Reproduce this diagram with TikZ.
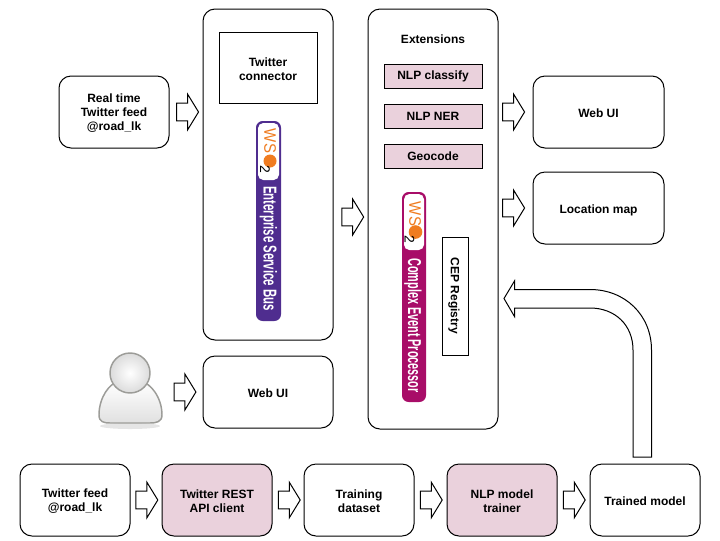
\documentclass[tikz,border=0pt]{standalone}
\usepackage{fontspec}
\setmainfont{Liberation Sans}
\usetikzlibrary{positioning,shapes.arrows}
\definecolor{pinkfill}{HTML}{EAD1DC}
\definecolor{esbpurple}{HTML}{4F2D8F}
\definecolor{cepmagenta}{HTML}{A80D68}
\definecolor{wsorange}{HTML}{F07C20}
\definecolor{usergrey}{HTML}{9C9C98}
\newcommand{\topgap}[1]{\rule{0pt}{#1}}
\tikzset{
	sized/.style 2 args={minimum width=#1*0.75pt, minimum height=#2*0.75pt},
	label/.style={align=center, font=\fontsize{9}{10.5}\selectfont\bfseries, inner sep=0pt},
	drop/.style={execute at begin node={\rule{0pt}{#1}}},
	roundbox/.style={draw, label, drop=8pt, line width=0.75pt, rounded corners=9pt, sized={110}{72}},
	flatbox/.style={draw, label, line width=0.75pt},
	pinkbox/.style={flatbox, fill=pinkfill, sized={98}{24}},
	hollow/.style={draw, single arrow, line width=0.75pt, inner xsep=0pt, inner ysep=6.3pt,
		minimum height=16.4pt, single arrow head extend=6.7pt, single arrow tip angle=117},
	logotext/.style={rotate=-90, white, font=\fontsize{14}{14}\selectfont\bfseries, inner sep=0pt},
	wstext/.style={rotate=-90, wsorange, font=\fontsize{12.5}{12.5}\selectfont, inner sep=0pt},
	twotext/.style={rotate=-90, font=\fontsize{10.5}{10.5}\selectfont, inner sep=0pt}
}
\begin{document}
\begin{tikzpicture}[x=0.75pt,y=-0.75pt]
\useasboundingbox (0,0) rectangle (720,540);
% top left
\node[roundbox] (rtfeed) at (114,112) {\topgap{8pt}Real time\\Twitter feed\\@road\_lk};
\node[roundbox, sized={130}{331}] (esb) at (268,174.5) {};
\node[flatbox, sized={98}{71}] (connector) at (268,67.5) {\topgap{9.5pt}Twitter\\connector};
\node[roundbox, sized={130}{72}] (webleft) at (268,392) {Web UI};
\node[hollow, right=5pt of rtfeed] (feedarrow) {};
\node[hollow, left=4.5pt of webleft] (userarrow) {};

% event processor
\node[roundbox, sized={130}{420}] (cep) at (433,219) {};
\node[label] (extensions) at (433,39) {Extensions};
\node[pinkbox] (classify) at (433,76) {NLP classify};
\node[pinkbox] (ner) at (433,116) {NLP NER};
\node[pinkbox] (geocode) at (433,156) {Geocode};
\node[flatbox, drop=8pt, sized={118}{26}, rotate=-90] (registry) at (455,296) {CEP Registry};
\node[hollow] (esbarrow) at (350,217) {};

% outputs
\node[roundbox, sized={131}{72}] (webright) at (598.5,112) {Web UI};
\node[roundbox, drop=9.5pt, sized={131}{72}] (map) at (598.5,208) {Location map};
\node[hollow, left=5.5pt of webright] (webarrow) {};
\node[hollow, left=5.5pt of map] (maparrow) {};

% bottom row
\node[roundbox] (feed) at (75,500) {\topgap{8pt}Twitter feed\\@road\_lk};
\node[roundbox, fill=pinkfill] (client) at (217,500) {\topgap{8pt}Twitter REST\\API client};
\node[roundbox] (dataset) at (359,500) {\topgap{8pt}Training\\dataset};
\node[roundbox, fill=pinkfill] (trainer) at (502,500) {\topgap{8pt}NLP model\\trainer};
\node[roundbox] (model) at (645,500) {Trained model};
\node[hollow, right=3.7pt of feed] (feedclient) {};
\node[hollow, right=4pt of client] (clientdata) {};
\node[hollow, right=4pt of dataset] (datatrainer) {};
\node[hollow, right=4pt of trainer] (trainermodel) {};

% curved arrow from the model to the registry
\draw[line width=0.75pt] (651.5,457) -- (651.5,350) .. controls (651.5,315) and (625,289.5) .. (590,289.5)
	-- (514.5,289.5) -- (514.5,281) -- (504,298.5) -- (514.5,316.5) -- (514.5,308) -- (590,308)
	.. controls (615,308) and (633,325) .. (633,350) -- (633,457) -- cycle;

% esb logo
\begin{scope}[shift={(256,121)}]
	\fill[esbpurple, rounded corners=5pt] (0,0) rectangle (25,200);
	\fill[white, rounded corners=4pt] (2,2) rectangle (23,59);
	\node[wstext] (esbws) at (14,20) {\scalebox{0.9}[1]{WS}};
	\fill[wsorange] (14,40) circle (6.5);
	\node[twotext] (esbtwo) at (9,48) {2};
	\node[logotext] (esbname) at (12.5,127.5) {\scalebox{0.61}[1]{Enterprise Service Bus}};
\end{scope}

% cep logo
\begin{scope}[shift={(402,192)}]
	\fill[cepmagenta, rounded corners=5pt] (0,0) rectangle (24,210);
	\fill[white, rounded corners=4pt] (2,2) rectangle (22,58);
	\node[wstext] (cepws) at (13,22) {\scalebox{0.9}[1]{WS}};
	\fill[wsorange] (13.5,40) circle (6.8);
	\node[twotext] (ceptwo) at (7.5,47) {2};
	\node[logotext] (cepname) at (11,133.5) {\scalebox{0.58}[1]{Complex Event Processor}};
\end{scope}

% user icon
\begin{scope}[shift={(130,373)}]
	\fill[black!10] (0,53) ellipse (30 and 3);
	\draw[usergrey, line width=1.1pt, top color=white, bottom color=black!12]
		(-31,42) .. controls (-31,24) and (-20,10) .. (-12,9) -- (12,9) .. controls (20,10) and (32,24) .. (32,42)
		.. controls (32,49) and (26,50) .. (20,50) -- (-20,50) .. controls (-26,50) and (-31,49) .. (-31,42) -- cycle;
	\draw[usergrey, line width=1.1pt, inner color=white, outer color=black!14] (0,0) circle (20);
\end{scope}
\end{tikzpicture}
\end{document}
